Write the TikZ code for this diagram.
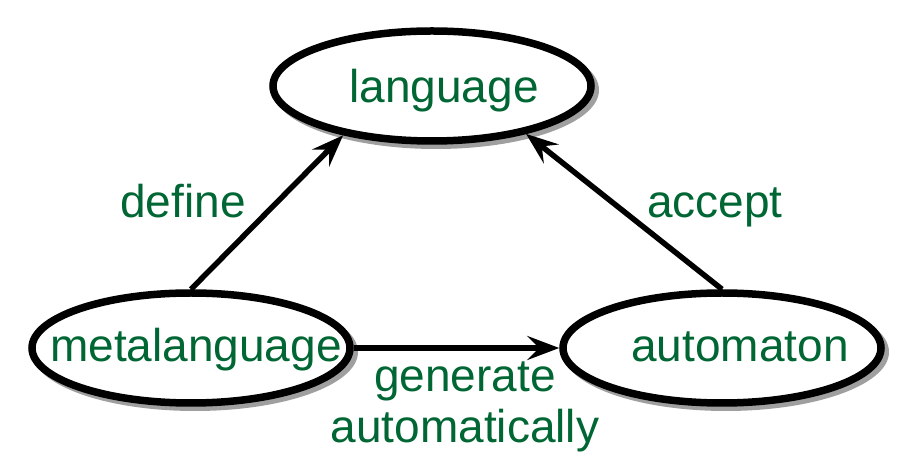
\documentclass[tikz,border=0pt]{standalone}
\usepackage{fontspec}
\setmainfont{Liberation Sans}
\usetikzlibrary{shapes.geometric,arrows.meta}
\definecolor{txtgreen}{RGB}{0,102,51}
\begin{document}
\begin{tikzpicture}[x=1pt,y=1pt,
  oval/.style={ellipse, draw=black, line width=7.5pt, fill=white,
    minimum width=318pt, minimum height=110pt, inner sep=0pt},
  shadowoval/.style={ellipse, fill=gray!75,
    minimum width=326pt, minimum height=118pt, inner sep=0pt},
  lbl/.style={text=txtgreen, font=\fontsize{46}{50}\selectfont, inner sep=0pt, anchor=base},
  conn/.style={line width=5.5pt, -{Stealth[length=32pt,width=24pt,inset=12pt]}}]
\useasboundingbox (0,0) rectangle (912,468);
% shadows
\node[shadowoval] (langs) at (436,378) {};
\node[shadowoval] (metas) at (195,116) {};
\node[shadowoval] (autos) at (726,116) {};
% ellipses
\node[oval] (lang) at (432,382) {};
\node[oval] (meta) at (191,120) {};
\node[oval] (auto) at (722,120) {};
% texts
\node[lbl] (tlang) at (444,365) {language};
\node[lbl] (tmeta) at (196,106) {metalanguage};
\node[lbl] (tauto) at (740,106) {automaton};
% connectors
\draw[conn] (meta.north) -- (lang.209);
\draw[conn] (auto.north) -- (lang.333);
\draw[conn] (meta.east) -- (auto.west);
% labels
\node[lbl] (ldef) at (183,250) {define};
\node[lbl] (lacc) at (715,250) {accept};
\node[lbl] (lgen) at (465,76) {generate};
\node[lbl] (lauto) at (465,25) {automatically};
\end{tikzpicture}
\end{document}
